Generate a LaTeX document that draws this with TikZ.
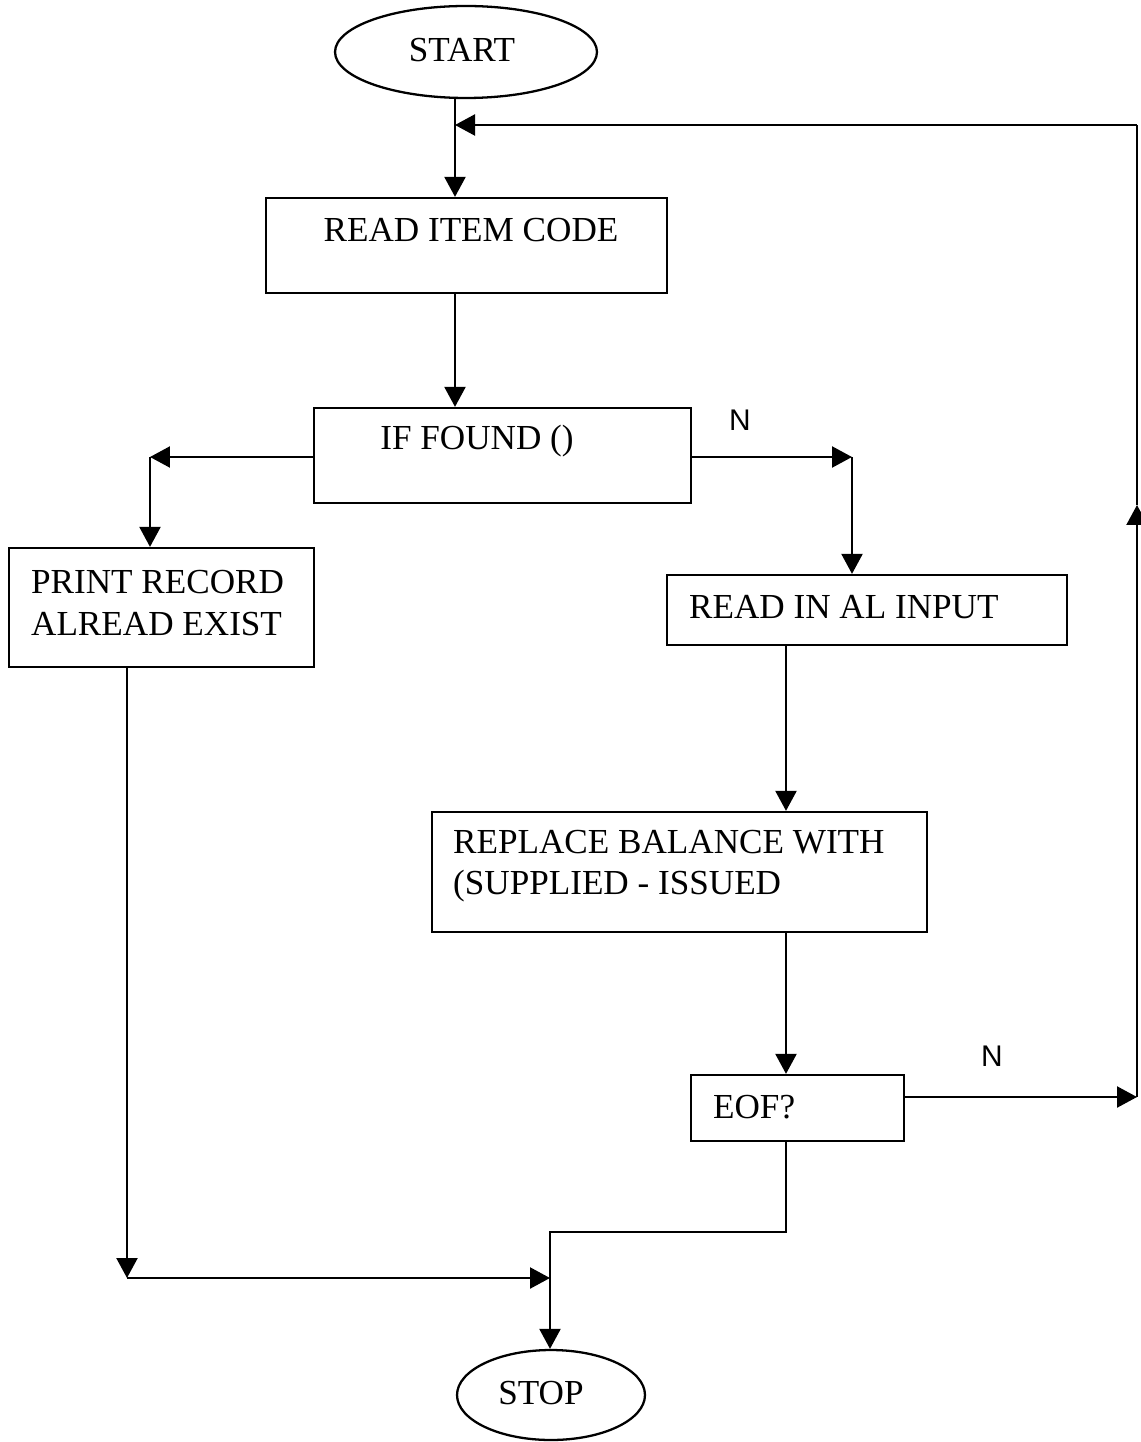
\documentclass[tikz,border=0pt]{standalone}
\usepackage{fontspec}
\setmainfont{Liberation Serif}
\newfontfamily\labelfont{Liberation Sans}
\usetikzlibrary{shapes.geometric,arrows.meta}

\begin{document}
\begin{tikzpicture}[x=0.02cm, y=-0.02cm, line width=1.3pt,
    box/.style={draw, rectangle, inner sep=0pt},
    term/.style={draw, ellipse, inner sep=0pt},
    txt/.style={font=\fontsize{20}{23.5}\selectfont, inner sep=0pt, align=left},
    nlab/.style={font=\labelfont\fontsize{17}{20}\selectfont, inner sep=0pt},
    flow/.style={-{Triangle[length=0.4cm,width=0.42cm]}}]
    \useasboundingbox (0,0) rectangle (1140,1442);

    % Start and stop
    \node[term, minimum width=5.24cm, minimum height=1.84cm] (start) at (466,52) {};
    \node[term, minimum width=3.76cm, minimum height=1.8cm] (stop) at (551,1395) {};

    % Boxes
    \node[box, minimum width=8.02cm, minimum height=1.9cm] (ric) at (466.5,245.5) {};
    \node[box, minimum width=7.54cm, minimum height=1.9cm] (iff) at (502.5,455.5) {};
    \node[box, minimum width=6.1cm, minimum height=2.38cm] (prt) at (161.5,607.5) {};
    \node[box, minimum width=8cm, minimum height=1.4cm] (ral) at (867,610) {};
    \node[box, minimum width=9.9cm, minimum height=2.4cm] (rep) at (679.5,872) {};
    \node[box, minimum width=4.26cm, minimum height=1.32cm] (eof) at (797.5,1108) {};

    % Texts
    \node[txt] (startT) at (462,50) {START};
    \node[txt] (stopT) at (541,1393) {STOP};
    \node[txt] (ricT) at (471,230) {READ ITEM CODE};
    \node[txt] (iffT) at (477,441) {IF FOUND ()};
    \node[txt, anchor=west] (prtT) at (30,603) {PRINT RECORD\\ALREAD EXIST};
    \node[txt, anchor=west] (ralT) at (688,607) {READ IN AL INPUT};
    \node[txt, anchor=west] (repT) at (452,866) {REPLACE BALANCE WITH\\(SUPPLIED - ISSUED};
    \node[txt, anchor=west] (eofT) at (712,1107) {EOF?};

    % N labels
    \node[nlab] (n1) at (740,420) {N};
    \node[nlab] (n2) at (992,1056) {N};

    % Bends and joins
    \coordinate (top) at (455,125);
    \coordinate (tr) at (1137,125);
    \coordinate (lft) at (150,457);
    \coordinate (rgt) at (852,457);
    \coordinate (mid) at (786,700);
    \coordinate (eofr) at (1137,1097);
    \coordinate (up) at (1137,505);
    \coordinate (bl) at (127,1278);
    \coordinate (mrg) at (550,1278);
    \coordinate (sj) at (550,1232);

    % Main line
    \draw[flow] (start.south -| top) -- (ric.north -| top);
    \draw[flow] (tr) -- (top);
    \draw[flow] (ric.south -| top) -- (iff.north -| top);

    % Found / not found
    \draw[flow] (iff.west |- lft) -- (lft);
    \draw[flow] (lft) -- (prt.north -| lft);
    \draw[flow] (iff.east |- rgt) -- (rgt);
    \draw[flow] (rgt) -- (ral.north -| rgt);
    \draw[flow] (ral.south -| mid) -- (rep.north -| mid);
    \draw[flow] (rep.south -| mid) -- (eof.north -| mid);

    % Loop back
    \draw[flow] (eof.east |- eofr) -- (eofr);
    \draw[flow] (eofr) -- (up);
    \draw (up) -- (tr);

    % To stop
    \draw[flow] (prt.south -| bl) -- (bl);
    \draw[flow] (bl) -- (mrg);
    \draw[flow] (eof.south -| mid) |- (sj) -- (stop.north -| sj);
\end{tikzpicture}
\end{document}
